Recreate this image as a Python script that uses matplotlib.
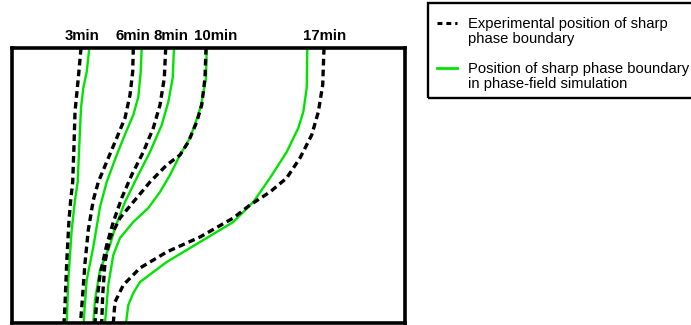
import matplotlib
matplotlib.use("Agg")
import matplotlib.pyplot as plt
from matplotlib.lines import Line2D
from matplotlib.patches import Rectangle

plt.rcParams['font.family'] = ['Liberation Sans', 'DejaVu Sans']

# Boundary positions (lateral position vs. depth), one pair per time step
time_labels = ["3min", "6min", "8min", "10min", "17min"]
label_x = [81.7, 133, 171, 216, 325]

exp_3_x = [81, 78.3, 75, 74, 72.7, 70.7, 69, 66.7, 65, 64]
exp_3_y = [48, 78, 112, 145, 182, 200, 220, 263, 305, 323]
sim_3_x = [89.3, 86.7, 83.3, 81, 79.3, 77.7, 75, 71.7, 68.3, 66.7]
sim_3_y = [48, 72, 88, 108, 145, 182, 200, 230, 280, 323]

exp_6_x = [133.3, 132.7, 130, 125, 116.7, 108.3, 98.3, 93.3, 88.3, 85, 82.3, 80.5]
exp_6_y = [48, 72, 95, 118, 138, 158, 182, 200, 230, 263, 300, 323]
sim_6_x = [141.7, 140.7, 138.3, 133.3, 126, 116.7, 106.7, 100, 93.3, 86.7, 84.3, 83.7]
sim_6_y = [48, 72, 97, 115, 132, 155, 182, 207, 247, 280, 313, 323]

exp_8_x = [165.7, 164.3, 160, 153.3, 143.3, 131.7, 121.7, 113.3, 106.7, 100, 96.5, 95]
exp_8_y = [48, 78, 105, 128, 152, 175, 198, 222, 245, 275, 305, 323]
sim_8_x = [174, 172.7, 168.3, 161.7, 150, 136.7, 125, 115, 110, 100, 95, 93.3]
sim_8_y = [48, 78, 102, 125, 152, 178, 202, 228, 245, 270, 300, 323]

exp_10_x = [206, 205, 201.7, 196.7, 188.3, 180, 166.7, 150, 133.3, 120, 110, 105, 102.7, 101.7]
exp_10_y = [48, 78, 105, 122, 142, 155, 165, 182, 202, 218, 238, 262, 295, 323]
sim_10_x = [206.7, 206, 201.7, 198.3, 190, 180, 170, 160, 148.3, 133.3, 120, 113.3, 108.3, 105]
sim_10_y = [48, 78, 102, 115, 138, 155, 175, 192, 208, 222, 238, 255, 285, 323]

exp_17_x = [324, 322.7, 318.3, 311.7, 300, 286.7, 270, 250, 233.3, 200, 166.7, 140, 123.3, 115, 113.3]
exp_17_y = [48, 85, 112, 135, 158, 178, 192, 205, 218, 237, 252, 268, 285, 302, 323]
sim_17_x = [307.3, 306.7, 303.3, 298.3, 286.7, 270, 253.3, 233.3, 200, 166.7, 140, 133.3, 128.3, 126]
sim_17_y = [48, 88, 112, 128, 152, 178, 202, 222, 242, 262, 282, 293, 305, 323]

experimental = [(exp_3_x, exp_3_y), (exp_6_x, exp_6_y), (exp_8_x, exp_8_y),
                (exp_10_x, exp_10_y), (exp_17_x, exp_17_y)]
simulated = [(sim_3_x, sim_3_y), (sim_6_x, sim_6_y), (sim_8_x, sim_8_y),
             (sim_10_x, sim_10_y), (sim_17_x, sim_17_y)]

W, H = 691, 325
fig = plt.figure(figsize=(W / 100, H / 100), dpi=100)
x0, x1, y0, y1 = 12, 405, 48, 323
ax = fig.add_axes([x0 / W, 1 - y1 / H, (x1 - x0) / W, (y1 - y0) / H])
ax.set_xlim(x0, x1)
ax.set_ylim(y1, y0)
ax.set_xticks([])
ax.set_yticks([])
for s in ax.spines.values():
    s.set_linewidth(2.6)

green = '#00e400'
dash = (0, (2.0, 1.25))
for xs, ys in simulated:
    ax.plot(xs, ys, color=green, lw=1.7, solid_joinstyle='round')
for xs, ys in experimental:
    ax.plot(xs, ys, color='black', lw=2.4, linestyle=dash, dash_capstyle='butt')

for lab, lx in zip(time_labels, label_x):
    ax.text(lx, 36, lab, ha='center', va='center', fontsize=10.8, fontweight='bold',
            transform=ax.transData, clip_on=False)

# legend drawn in pixel-based figure coordinates
def fx(px):
    return px / W

def fy(py):
    return 1 - py / H

fig.add_artist(Rectangle((fx(428), fy(98)), fx(700) - fx(428), fy(3) - fy(98),
                         transform=fig.transFigure, fill=False, lw=1.7, ec='black'))
fig.add_artist(Line2D([fx(437), fx(457)], [fy(23), fy(23)], transform=fig.transFigure,
                      color='black', lw=2.2, linestyle=(0, (1.6, 1.3)), dash_capstyle='butt'))
fig.add_artist(Line2D([fx(437), fx(457)], [fy(68), fy(68)], transform=fig.transFigure,
                      color=green, lw=2.0))
fig.text(fx(468), fy(31.5), "Experimental position of sharp\nphase boundary",
         ha='left', va='center', fontsize=10.6, linespacing=1.18)
fig.text(fx(468), fy(76.5), "Position of sharp phase boundary\nin phase-field simulation",
         ha='left', va='center', fontsize=10.6, linespacing=1.18)

fig.savefig("out.png", dpi=100)
